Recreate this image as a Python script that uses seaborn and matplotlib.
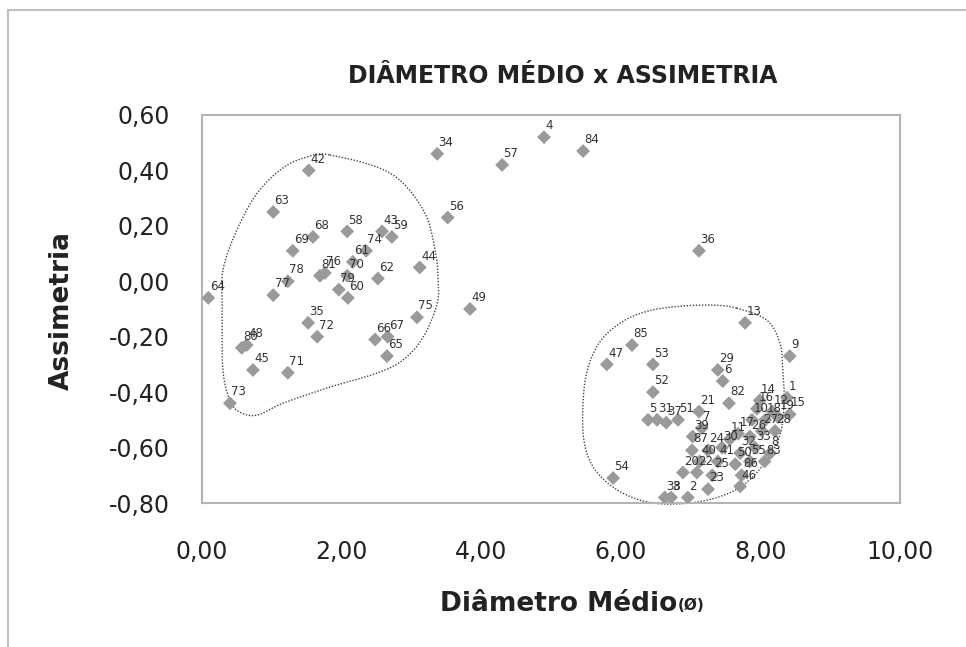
import numpy as np
import pandas as pd
import matplotlib
matplotlib.use("Agg")
import matplotlib.pyplot as plt
import seaborn as sns
from matplotlib.patches import Rectangle

# ---- data ----
labels = [64, 42, 63, 58, 43, 59, 68, 69, 74, 61, 70, 76, 81, 78, 77, 79, 60, 62, 44, 75,
          67, 66, 65, 35, 72, 71, 45, 80, 48, 73,
          34, 57, 4, 84, 56, 36, 49,
          13, 9, 85, 47, 53, 52, 5, 31, 37, 51, 21, 7, 39, 29, 6, 82, 1, 54, 38, 3, 2,
          14, 16, 12, 10, 18, 19, 15, 17, 11, 26, 27, 28, 8, 87, 24, 30, 32, 33,
          40, 41, 50, 55, 83, 86, 20, 22, 25, 23, 46]
diametro = [0.09, 1.53, 1.02, 2.08, 2.58, 2.72, 1.59, 1.30, 2.35, 2.16, 2.08, 1.76, 1.69, 1.23, 1.02, 1.96, 2.09, 2.52, 3.12, 3.08,
            2.66, 2.48, 2.65, 1.52, 1.65, 1.23, 0.73, 0.57, 0.64, 0.40,
            3.37, 4.30, 4.90, 5.46, 3.52, 7.12, 3.84,
            7.78, 8.42, 6.16, 5.80, 6.46, 6.46, 6.39, 6.52, 6.65, 6.82, 7.12, 7.16, 7.03, 7.39, 7.46, 7.55, 8.38, 5.89, 6.63, 6.72, 6.96,
            7.99, 7.95, 8.17, 7.88, 8.07, 8.25, 8.42, 7.68, 7.56, 7.85, 8.02, 8.21, 8.14, 7.02, 7.25, 7.45, 7.71, 7.92,
            7.13, 7.39, 7.64, 7.85, 8.06, 7.73, 6.89, 7.09, 7.31, 7.25, 7.71]
assimetria = [-0.06, 0.40, 0.25, 0.18, 0.18, 0.16, 0.16, 0.11, 0.11, 0.07, 0.02, 0.03, 0.02, 0.00, -0.05, -0.03, -0.06, 0.01, 0.05, -0.13,
              -0.20, -0.21, -0.27, -0.15, -0.20, -0.33, -0.32, -0.24, -0.23, -0.44,
              0.46, 0.42, 0.52, 0.47, 0.23, 0.11, -0.10,
              -0.15, -0.27, -0.23, -0.30, -0.30, -0.40, -0.50, -0.50, -0.51, -0.50, -0.47, -0.53, -0.56, -0.32, -0.36, -0.44, -0.42, -0.71, -0.78, -0.78, -0.78,
              -0.43, -0.46, -0.47, -0.50, -0.50, -0.49, -0.48, -0.55, -0.57, -0.56, -0.54, -0.54, -0.62, -0.61, -0.61, -0.60, -0.62, -0.60,
              -0.65, -0.65, -0.66, -0.65, -0.65, -0.70, -0.69, -0.69, -0.70, -0.75, -0.74]

x_ticks = [0, 2, 4, 6, 8, 10]
y_ticks = [0.6, 0.4, 0.2, 0.0, -0.2, -0.4, -0.6, -0.8]

# hand-drawn dotted enclosures (data coordinates)
grupo1_x = [1.83, 2.69, 3.17, 3.34, 3.38, 3.37, 3.17, 2.88, 2.51, 1.83, 1.16, 0.79, 0.54, 0.40, 0.30, 0.29, 0.30, 0.50, 0.79, 1.16, 1.50]
grupo1_y = [0.456, 0.391, 0.257, 0.113, 0.015, -0.079, -0.201, -0.284, -0.331, -0.382, -0.440, -0.483, -0.472, -0.429, -0.321, -0.104, 0.040, 0.185, 0.318, 0.409, 0.448]
grupo2_x = [7.66, 8.09, 8.28, 8.32, 8.34, 8.28, 8.07, 7.71, 7.23, 6.70, 6.28, 5.89, 5.59, 5.46, 5.49, 5.67, 5.99, 6.38, 6.85, 7.32]
grupo2_y = [-0.097, -0.140, -0.223, -0.321, -0.429, -0.555, -0.653, -0.743, -0.790, -0.804, -0.790, -0.743, -0.664, -0.548, -0.357, -0.230, -0.151, -0.108, -0.090, -0.086]

df = pd.DataFrame({"d": diametro, "a": assimetria, "n": labels})


def closed_spline(xs, ys, n=20):
    P = np.column_stack([xs, ys])
    m = len(P)
    out = []
    for i in range(m):
        p0, p1, p2, p3 = P[(i - 1) % m], P[i], P[(i + 1) % m], P[(i + 2) % m]
        for t in np.linspace(0, 1, n, endpoint=False):
            t2, t3 = t * t, t * t * t
            pt = 0.5 * ((2 * p1) + (-p0 + p2) * t + (2 * p0 - 5 * p1 + 4 * p2 - p3) * t2 + (-p0 + 3 * p1 - 3 * p2 + p3) * t3)
            out.append(pt)
    out.append(out[0])
    out = np.array(out)
    return out[:, 0], out[:, 1]


sns.set_style("white")
plt.rcParams['font.family'] = ['DejaVu Sans']

fig = plt.figure(figsize=(9.66, 6.47), dpi=100)
ax = fig.add_axes([202 / 966, 1 - 503 / 647, (900 - 202) / 966, (503 - 115) / 647])

# outer chart border
fig.patches.append(Rectangle((8 / 966, -0.1), 1.2, 1 - 10 / 647 + 0.1, transform=fig.transFigure,
                             fill=False, edgecolor="#c0c0c0", linewidth=1.5, zorder=0))

sns.scatterplot(data=df, x="d", y="a", marker="D", s=50, color="#9a9a9a", edgecolor="none",
                ax=ax, zorder=3, legend=False)

for xi, yi, lab in zip(df["d"], df["a"], df["n"]):
    ax.annotate(str(lab), (xi, yi), xytext=(1, 3.5), textcoords="offset points",
                ha="left", va="bottom", fontsize=8.5, color="#333333", zorder=4)

for gx, gy in ((grupo1_x, grupo1_y), (grupo2_x, grupo2_y)):
    sx, sy = closed_spline(gx, gy)
    ax.plot(sx, sy, color="#444444", linewidth=1.0, linestyle=(0, (1, 1.2)), zorder=2, clip_on=False)

ax.set_xlim(0, 10)
ax.set_ylim(-0.8, 0.6)
ax.set_xticks(x_ticks)
ax.set_xticklabels([f"{v:.2f}".replace(".", ",") for v in x_ticks], fontsize=17, color="#222222")
ax.set_yticks(y_ticks)
ax.set_yticklabels([f"{v:.2f}".replace(".", ",") for v in y_ticks], fontsize=17, color="#222222")
ax.tick_params(axis="both", direction="out", length=5, width=1, color="#c0c0c0")
ax.tick_params(axis="y", pad=18)
ax.tick_params(axis="x", pad=22)

for sp in ax.spines.values():
    sp.set_visible(True)
    sp.set_color("#b4b4b4")
    sp.set_linewidth(1.5)

ax.set_xlabel("")
ax.set_ylabel("")
fig.text(62 / 966, 1 - 310 / 647, "Assimetria", rotation=90, ha="center", va="center",
         fontsize=19, fontweight="bold", color="#222222")
fig.text(677 / 966, 1 - 604 / 647, "Diâmetro Médio", ha="right", va="center",
         fontsize=19, fontweight="bold", color="#222222")
fig.text(678 / 966, 1 - 606 / 647, "(Ø)", ha="left", va="center",
         fontsize=11, fontweight="bold", color="#222222")
fig.text(563 / 966, 1 - 76 / 647, "DIÂMETRO MÉDIO x ASSIMETRIA", ha="center", va="center",
         fontsize=17, fontweight="bold", color="#222222")

fig.savefig("out.png", dpi=100)
